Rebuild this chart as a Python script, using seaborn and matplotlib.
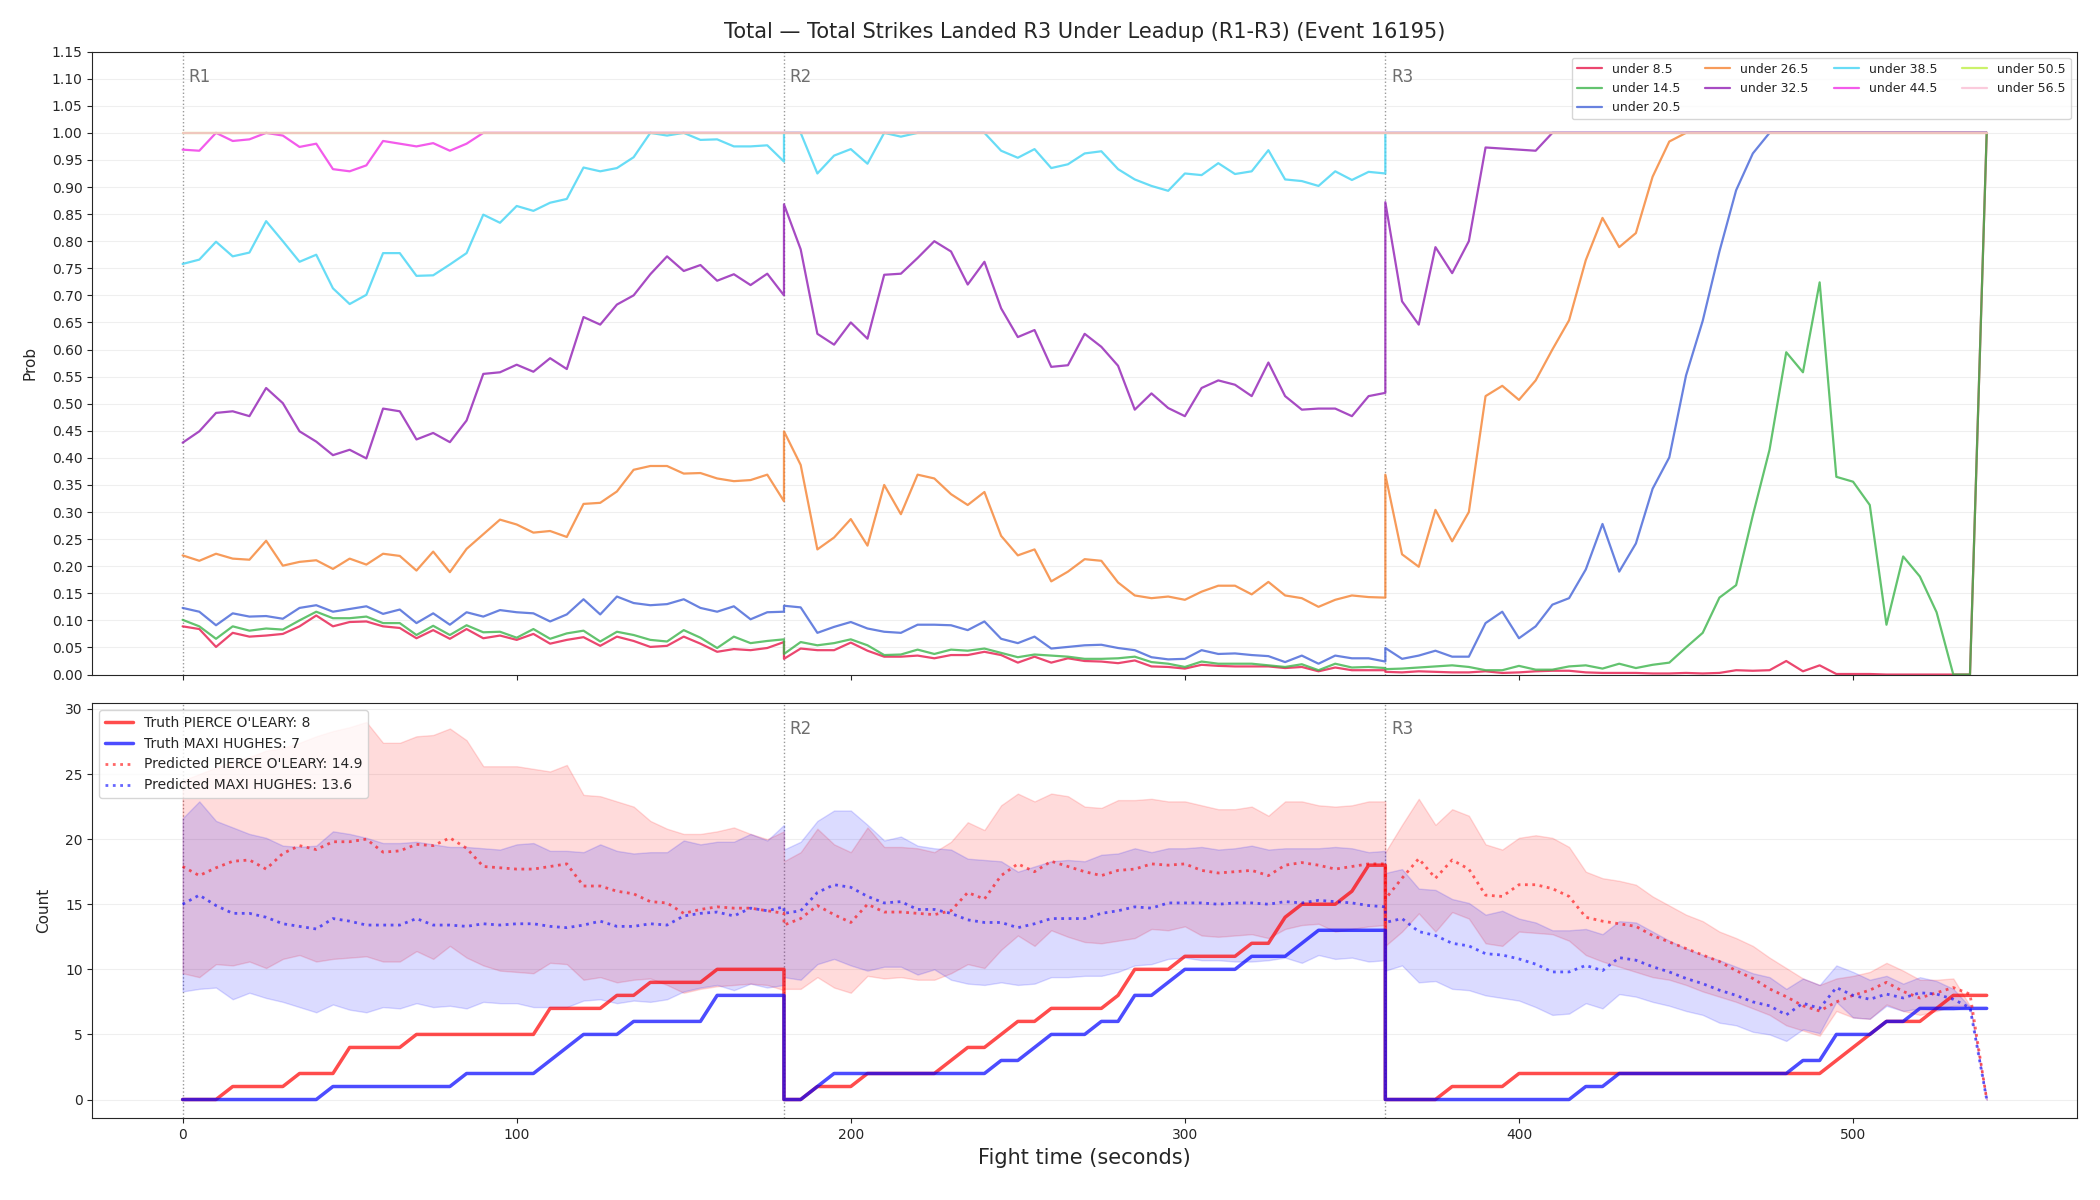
import numpy as np
import matplotlib
matplotlib.use("Agg")
import matplotlib.pyplot as plt
import seaborn as sns

# ---------------------------------------------------------------------------
# Data (sampled every 5 s, 37 samples per round: R1 0-180, R2 180-360, R3 360-540)
# ---------------------------------------------------------------------------
ROUND_STARTS = [0, 180, 360]
ROUND_NAMES = ["R1", "R2", "R3"]
ROUND_LEN = 180
STEP = 5

under_8_5 = [
    0.089, 0.084, 0.051, 0.077, 0.070, 0.072, 0.075, 0.089, 0.109, 0.089, 0.097, 0.098, 0.089,
    0.086, 0.067, 0.082, 0.066, 0.084, 0.067, 0.072, 0.064, 0.075, 0.057, 0.064, 0.069, 0.053,
    0.070, 0.062, 0.051, 0.053, 0.070, 0.057, 0.042, 0.047, 0.045, 0.049, 0.060,
    0.029, 0.048, 0.045, 0.045, 0.059, 0.044, 0.033, 0.033, 0.035, 0.030, 0.036, 0.036, 0.042,
    0.036, 0.022, 0.033, 0.022, 0.030, 0.025, 0.024, 0.021, 0.026, 0.015, 0.014, 0.011, 0.018,
    0.016, 0.015, 0.015, 0.015, 0.012, 0.014, 0.006, 0.013, 0.008, 0.008, 0.008,
    0.005, 0.004, 0.006, 0.005, 0.004, 0.004, 0.006, 0.003, 0.004, 0.006, 0.007, 0.007, 0.004,
    0.003, 0.003, 0.003, 0.002, 0.002, 0.003, 0.002, 0.003, 0.008, 0.007, 0.008, 0.025, 0.006,
    0.017, 0.001, 0.001, 0.001, 0.0, 0.0, 0.0, 0.0, 0.0, 0.0, 1.0,
]
under_14_5 = [
    0.101, 0.089, 0.066, 0.089, 0.081, 0.085, 0.083, 0.100, 0.116, 0.104, 0.104, 0.107, 0.095,
    0.095, 0.073, 0.090, 0.073, 0.091, 0.078, 0.079, 0.068, 0.084, 0.066, 0.076, 0.081, 0.061,
    0.079, 0.073, 0.064, 0.061, 0.082, 0.068, 0.049, 0.070, 0.058, 0.062, 0.065,
    0.038, 0.060, 0.054, 0.058, 0.065, 0.054, 0.036, 0.037, 0.046, 0.038, 0.046, 0.044, 0.048,
    0.040, 0.032, 0.037, 0.035, 0.033, 0.029, 0.029, 0.030, 0.033, 0.023, 0.020, 0.014, 0.024,
    0.020, 0.020, 0.020, 0.017, 0.014, 0.019, 0.008, 0.020, 0.013, 0.014, 0.012,
    0.010, 0.011, 0.013, 0.015, 0.017, 0.014, 0.008, 0.008, 0.016, 0.009, 0.009, 0.015, 0.017,
    0.011, 0.020, 0.012, 0.018, 0.022, 0.050, 0.077, 0.142, 0.165, 0.294, 0.415, 0.595, 0.558,
    0.724, 0.365, 0.356, 0.313, 0.092, 0.218, 0.181, 0.115, 0.0, 0.0, 1.0,
]
under_20_5 = [
    0.123, 0.116, 0.091, 0.113, 0.107, 0.108, 0.103, 0.123, 0.128, 0.116, 0.121, 0.126, 0.112,
    0.120, 0.095, 0.113, 0.092, 0.115, 0.107, 0.119, 0.115, 0.113, 0.098, 0.111, 0.139, 0.111,
    0.144, 0.132, 0.128, 0.130, 0.139, 0.123, 0.116, 0.126, 0.102, 0.115, 0.116,
    0.127, 0.124, 0.077, 0.088, 0.097, 0.085, 0.079, 0.077, 0.092, 0.092, 0.091, 0.082, 0.098,
    0.066, 0.058, 0.070, 0.048, 0.051, 0.054, 0.055, 0.049, 0.045, 0.032, 0.028, 0.029, 0.045,
    0.038, 0.039, 0.036, 0.034, 0.023, 0.035, 0.020, 0.035, 0.030, 0.030, 0.024,
    0.049, 0.029, 0.035, 0.044, 0.033, 0.033, 0.095, 0.116, 0.067, 0.089, 0.129, 0.141, 0.194,
    0.278, 0.190, 0.242, 0.343, 0.401, 0.552, 0.653, 0.781, 0.894, 0.962, 1.0, 1.0, 1.0,
    1.0, 1.0, 1.0, 1.0, 1.0, 1.0, 1.0, 1.0, 1.0, 1.0, 1.0,
]
under_26_5 = [
    0.220, 0.210, 0.223, 0.214, 0.212, 0.247, 0.201, 0.208, 0.211, 0.195, 0.214, 0.203, 0.223,
    0.219, 0.192, 0.227, 0.189, 0.232, 0.259, 0.286, 0.277, 0.262, 0.265, 0.254, 0.315, 0.317,
    0.338, 0.378, 0.385, 0.385, 0.371, 0.372, 0.362, 0.357, 0.359, 0.369, 0.320,
    0.449, 0.387, 0.231, 0.253, 0.287, 0.238, 0.350, 0.296, 0.369, 0.362, 0.333, 0.313, 0.337,
    0.256, 0.220, 0.231, 0.172, 0.190, 0.213, 0.210, 0.170, 0.146, 0.141, 0.144, 0.138, 0.153,
    0.164, 0.164, 0.148, 0.171, 0.146, 0.141, 0.125, 0.138, 0.146, 0.143, 0.142,
    0.369, 0.222, 0.199, 0.304, 0.246, 0.300, 0.514, 0.533, 0.507, 0.543, 0.600, 0.654, 0.765,
    0.843, 0.789, 0.815, 0.919, 0.984, 1.0, 1.0, 1.0, 1.0, 1.0, 1.0, 1.0, 1.0,
    1.0, 1.0, 1.0, 1.0, 1.0, 1.0, 1.0, 1.0, 1.0, 1.0, 1.0,
]
under_32_5 = [
    0.428, 0.449, 0.483, 0.486, 0.477, 0.529, 0.501, 0.449, 0.430, 0.405, 0.415, 0.399, 0.491,
    0.486, 0.434, 0.446, 0.429, 0.469, 0.555, 0.558, 0.572, 0.559, 0.584, 0.564, 0.660, 0.646,
    0.683, 0.700, 0.739, 0.772, 0.745, 0.756, 0.727, 0.739, 0.719, 0.740, 0.700,
    0.868, 0.785, 0.629, 0.609, 0.650, 0.620, 0.738, 0.740, 0.769, 0.800, 0.781, 0.720, 0.762,
    0.676, 0.623, 0.636, 0.568, 0.571, 0.629, 0.605, 0.570, 0.489, 0.519, 0.492, 0.477, 0.529,
    0.543, 0.535, 0.514, 0.576, 0.514, 0.489, 0.491, 0.491, 0.477, 0.514, 0.520,
    0.872, 0.689, 0.646, 0.789, 0.741, 0.800, 0.973, 0.971, 0.969, 0.967, 1.0, 1.0, 1.0,
    1.0, 1.0, 1.0, 1.0, 1.0, 1.0, 1.0, 1.0, 1.0, 1.0, 1.0, 1.0, 1.0,
    1.0, 1.0, 1.0, 1.0, 1.0, 1.0, 1.0, 1.0, 1.0, 1.0, 1.0,
]
under_38_5 = [
    0.758, 0.766, 0.799, 0.772, 0.779, 0.837, 0.800, 0.762, 0.775, 0.713, 0.684, 0.701, 0.778,
    0.778, 0.736, 0.737, 0.757, 0.778, 0.849, 0.834, 0.865, 0.856, 0.871, 0.878, 0.936, 0.929,
    0.935, 0.955, 1.0, 0.995, 1.0, 0.987, 0.988, 0.975, 0.975, 0.977, 0.947,
    1.0, 1.0, 0.925, 0.958, 0.970, 0.943, 1.0, 0.993, 1.0, 1.0, 1.0, 1.0, 1.0,
    0.967, 0.954, 0.970, 0.935, 0.942, 0.962, 0.966, 0.933, 0.914, 0.902, 0.893, 0.925, 0.922,
    0.944, 0.924, 0.929, 0.968, 0.914, 0.911, 0.902, 0.929, 0.913, 0.928, 0.925,
] + [1.0] * 37
under_44_5 = [
    0.969, 0.967, 1.0, 0.985, 0.988, 1.0, 0.995, 0.974, 0.980, 0.933, 0.929, 0.940, 0.985,
    0.980, 0.975, 0.981, 0.967, 0.980, 1.0, 1.0, 1.0, 1.0, 1.0, 1.0, 1.0, 1.0,
    1.0, 1.0, 1.0, 1.0, 1.0, 1.0, 1.0, 1.0, 1.0, 1.0, 1.0,
] + [1.0] * 74
under_50_5 = [1.0] * 111
under_56_5 = [1.0] * 111

line_labels = ["under 8.5", "under 14.5", "under 20.5", "under 26.5", "under 32.5",
               "under 38.5", "under 44.5", "under 50.5", "under 56.5"]
line_values = [under_8_5, under_14_5, under_20_5, under_26_5, under_32_5,
               under_38_5, under_44_5, under_50_5, under_56_5]
line_colors = ["#e6194b", "#3cb44b", "#4363d8", "#f58231", "#911eb4",
               "#42d4f4", "#f032e6", "#bfef45", "#fabed4"]

# counts
truth_pierce = [
    0, 0, 0, 1, 1, 1, 1, 2, 2, 2, 4, 4, 4, 4, 5, 5, 5, 5, 5, 5, 5, 5, 7, 7, 7, 7, 8, 8, 9, 9, 9, 9,
    10, 10, 10, 10, 10,
    0, 0, 1, 1, 1, 2, 2, 2, 2, 2, 3, 4, 4, 5, 6, 6, 7, 7, 7, 7, 8, 10, 10, 10, 11, 11, 11, 11,
    12, 12, 14, 15, 15, 15, 16, 18, 18,
    0, 0, 0, 0, 1, 1, 1, 1, 2, 2, 2, 2, 2, 2, 2, 2, 2, 2, 2, 2, 2, 2, 2, 2, 2, 2, 2, 3, 4, 5,
    6, 6, 6, 7, 8, 8, 8,
]
truth_maxi = [
    0, 0, 0, 0, 0, 0, 0, 0, 0, 1, 1, 1, 1, 1, 1, 1, 1, 2, 2, 2, 2, 2, 3, 4, 5, 5, 5, 6, 6, 6, 6, 6,
    8, 8, 8, 8, 8,
    0, 0, 1, 2, 2, 2, 2, 2, 2, 2, 2, 2, 2, 3, 3, 4, 5, 5, 5, 6, 6, 8, 8, 9, 10, 10, 10, 10,
    11, 11, 11, 12, 13, 13, 13, 13, 13,
    0, 0, 0, 0, 0, 0, 0, 0, 0, 0, 0, 0, 1, 1, 2, 2, 2, 2, 2, 2, 2, 2, 2, 2, 2, 3, 3, 5, 5, 5,
    6, 6, 7, 7, 7, 7, 7,
]
pred_pierce = [
    17.9, 17.2, 17.8, 18.3, 18.4, 17.7, 18.9, 19.5, 19.2, 19.8, 19.8, 20.0, 19.0, 19.1, 19.6,
    19.5, 20.1, 19.3, 17.9, 17.8, 17.7, 17.7, 17.9, 18.1, 16.4, 16.4, 16.0, 15.8, 15.2, 15.1,
    14.3, 14.6, 14.8, 14.7, 14.7, 14.5, 14.3,
    13.4, 13.9, 14.9, 14.2, 13.6, 15.0, 14.4, 14.4, 14.3, 14.2, 14.5, 15.9, 15.4, 17.2, 18.1,
    17.5, 18.3, 17.9, 17.5, 17.2, 17.6, 17.7, 18.1, 18.0, 18.1, 17.6, 17.4, 17.5, 17.6, 17.2,
    18.0, 18.2, 18.0, 17.7, 17.9, 18.1, 18.1,
    15.4, 17.0, 18.5, 17.0, 18.4, 17.7, 15.7, 15.6, 16.5, 16.5, 16.2, 15.6, 14.0, 13.7, 13.5,
    13.3, 12.6, 12.1, 11.6, 11.1, 10.6, 9.9, 9.3, 8.5, 7.9, 7.2, 6.8, 7.5, 8.0, 8.4,
    9.0, 8.3, 7.8, 8.2, 8.6, 8.1, 0.0,
]
pred_maxi = [
    15.0, 15.7, 14.9, 14.3, 14.3, 14.0, 13.5, 13.3, 13.1, 13.9, 13.7, 13.4, 13.4, 13.4, 13.9,
    13.4, 13.4, 13.3, 13.5, 13.4, 13.5, 13.5, 13.3, 13.2, 13.4, 13.7, 13.3, 13.3, 13.5, 13.4,
    14.1, 14.3, 14.4, 14.1, 14.7, 14.5, 14.8,
    14.3, 14.5, 15.9, 16.5, 16.3, 15.6, 15.1, 15.2, 14.6, 14.6, 14.3, 13.8, 13.6, 13.6, 13.2,
    13.5, 13.9, 13.9, 13.9, 14.3, 14.5, 14.8, 14.7, 15.1, 15.1, 15.1, 15.0, 15.1, 15.1, 15.0,
    15.2, 15.1, 15.3, 15.2, 15.1, 14.9, 14.8,
    13.6, 13.9, 12.9, 12.6, 12.0, 11.8, 11.2, 11.1, 10.8, 10.4, 9.8, 9.8, 10.3, 9.9, 10.9,
    10.7, 10.2, 9.8, 9.3, 8.9, 8.4, 8.0, 7.5, 7.2, 6.5, 7.4, 7.0, 8.6, 8.0, 7.7,
    8.1, 7.8, 8.2, 8.1, 7.7, 7.05, 0.0,
]
pierce_hi = [
    24.5, 25.0, 25.5, 26.0, 26.3, 26.8, 27.0, 27.4, 27.9, 28.3, 28.6, 29.0, 27.4, 27.4, 27.9,
    28.0, 28.5, 27.6, 25.6, 25.6, 25.6, 25.4, 25.2, 25.7, 23.4, 23.3, 22.9, 22.5, 21.4, 20.8,
    20.4, 20.4, 20.6, 20.9, 20.4, 20.0, 20.6,
    18.3, 19.0, 20.8, 19.6, 19.0, 20.9, 19.4, 19.4, 19.3, 19.0, 19.8, 21.3, 20.7, 22.6, 23.5,
    22.9, 23.5, 23.3, 22.5, 22.4, 23.0, 23.0, 23.1, 22.9, 22.9, 22.6, 22.3, 22.3, 22.5, 21.8,
    22.9, 22.9, 22.6, 22.5, 22.6, 22.9, 22.9,
    19.0, 21.1, 23.1, 21.1, 22.3, 21.8, 19.6, 19.2, 20.1, 20.3, 20.1, 19.4, 17.5, 17.0, 16.8,
    16.5, 15.6, 14.9, 14.2, 13.7, 12.9, 12.4, 11.8, 10.9, 10.1, 9.3, 8.8, 9.3, 9.5, 9.8,
    10.5, 9.9, 9.2, 9.2, 9.3, 7.2, 0.0,
]
pierce_lo = [
    9.7, 9.4, 10.4, 10.3, 10.6, 10.1, 10.8, 11.1, 10.6, 10.8, 10.9, 11.0, 10.6, 10.6, 11.4,
    10.8, 11.8, 10.9, 10.3, 9.9, 9.8, 9.7, 10.5, 10.4, 9.2, 9.4, 9.0, 9.2, 9.3, 8.8,
    8.2, 8.5, 8.7, 8.8, 8.9, 8.8, 8.4,
    8.5, 8.5, 9.4, 8.6, 8.2, 9.5, 9.3, 9.4, 9.2, 9.2, 9.7, 10.4, 10.1, 11.5, 12.6,
    11.8, 13.0, 12.5, 12.1, 12.0, 12.2, 12.4, 13.1, 13.0, 13.3, 12.6, 12.5, 12.6, 12.7, 12.4,
    13.1, 13.4, 13.5, 12.9, 13.1, 13.3, 13.4,
    11.8, 12.9, 14.3, 12.9, 14.4, 13.9, 12.0, 11.8, 12.9, 12.8, 12.7, 12.2, 11.1, 10.6, 10.2,
    9.8, 9.4, 9.2, 8.8, 8.3, 7.9, 7.5, 7.0, 6.5, 5.7, 5.3, 4.9, 6.8, 6.3, 6.2,
    7.3, 6.8, 6.5, 6.8, 7.2, 7.2, 0.0,
]
maxi_hi = [
    21.6, 22.9, 21.4, 20.9, 20.4, 20.1, 19.5, 19.4, 19.5, 20.6, 20.4, 20.1, 19.7, 19.7, 19.8,
    19.6, 19.4, 19.4, 19.3, 19.2, 19.6, 19.7, 19.1, 19.1, 19.0, 19.6, 19.1, 18.9, 19.0, 19.0,
    19.9, 19.6, 19.8, 19.8, 20.4, 19.9, 21.1,
    19.2, 19.8, 21.4, 22.2, 22.2, 21.1, 19.9, 20.2, 19.5, 19.3, 19.2, 18.5, 18.4, 18.3, 17.5,
    17.9, 18.3, 18.4, 18.3, 18.8, 18.9, 19.3, 19.0, 19.3, 19.3, 19.4, 19.2, 19.3, 19.5, 19.2,
    19.3, 19.3, 19.3, 19.4, 19.3, 19.0, 19.1,
    17.4, 17.7, 16.2, 16.1, 15.4, 15.1, 14.2, 14.5, 13.9, 13.6, 13.0, 13.0, 13.1, 12.7, 13.7,
    13.6, 12.9, 12.2, 11.6, 11.1, 10.7, 10.2, 9.7, 9.4, 8.5, 9.3, 8.8, 10.3, 9.8, 9.2,
    9.5, 8.9, 9.4, 9.1, 8.5, 7.1, 0.0,
]
maxi_lo = [
    8.3, 8.5, 8.6, 7.7, 8.2, 7.8, 7.5, 7.1, 6.7, 7.3, 6.9, 6.7, 7.1, 7.0, 7.4,
    7.1, 7.2, 7.0, 7.5, 7.4, 7.4, 7.1, 7.1, 7.1, 7.6, 7.7, 7.4, 7.6, 7.5, 7.7,
    8.3, 8.6, 8.8, 8.4, 8.9, 8.6, 8.8,
    9.4, 9.2, 10.4, 10.8, 10.3, 9.9, 10.2, 10.2, 9.6, 10.0, 9.2, 8.9, 8.8, 9.0, 8.8,
    8.9, 9.4, 9.4, 9.5, 9.5, 9.8, 10.3, 10.4, 10.8, 10.9, 10.7, 10.7, 10.6, 10.6, 10.7,
    10.9, 10.5, 11.1, 10.8, 10.9, 10.6, 10.7,
    9.9, 10.3, 9.0, 9.1, 8.5, 8.4, 8.0, 7.8, 7.6, 7.1, 6.5, 6.6, 7.4, 7.0, 8.1,
    7.9, 7.5, 7.2, 6.8, 6.5, 5.9, 5.7, 5.2, 5.0, 4.5, 5.4, 5.1, 7.5, 6.3, 6.2,
    7.2, 6.8, 7.0, 6.9, 6.9, 7.1, 0.0,
]

FIGHTERS = ["PIERCE O'LEARY", "MAXI HUGHES"]
FINAL_TRUTH = [8, 7]
PRED_TOTAL = [14.9, 13.6]
TITLE = "Total \u2014 Total Strikes Landed R3 Under Leadup (R1-R3) (Event 16195)"

# x positions: each round sampled from its start to its end (duplicate x at round joins)
t = np.concatenate([np.arange(0, ROUND_LEN + 1, STEP) + s for s in ROUND_STARTS])


def mark_rounds(ax, names):
    for start, name in zip(ROUND_STARTS, ROUND_NAMES):
        ax.axvline(start, color="gray", linestyle=":", linewidth=1, alpha=0.8, zorder=1)
        if name in names:
            ax.annotate(name, xy=(start, 1), xycoords=("data", "axes fraction"),
                        xytext=(4, -12), textcoords="offset points",
                        ha="left", va="top", fontsize=12, color="#6e6e6e")


sns.set_style("ticks")
plt.rcParams["font.family"] = ["DejaVu Sans"]

fig, (ax1, ax2) = plt.subplots(2, 1, figsize=(21, 12), dpi=100, sharex=True,
                               gridspec_kw={"height_ratios": [3, 2]})
fig.subplots_adjust(left=0.044, right=0.989, top=0.957, bottom=0.068, hspace=0.055)

# --- top: probability of "under" thresholds ---
for label, vals, color in zip(line_labels, line_values, line_colors):
    sns.lineplot(x=t, y=vals, ax=ax1, color=color, alpha=0.8, linewidth=1.6,
                 estimator=None, sort=False, label=label)
ax1.set_ylim(0, 1.15)
ax1.set_yticks(np.arange(0, 1.151, 0.05))
ax1.set_ylabel("Prob", fontsize=11, labelpad=10)
ax1.grid(axis="y", alpha=0.3)
ax1.tick_params(labelsize=10)
mark_rounds(ax1, ["R1", "R2", "R3"])
ax1.legend(loc="upper right", ncol=4, fontsize=9)
ax1.set_title(TITLE, fontsize=15, pad=10)

# --- bottom: truth vs predicted counts ---
fighter_colors = ["red", "blue"]
truths = [truth_pierce, truth_maxi]
preds = [pred_pierce, pred_maxi]
bands = [(pierce_lo, pierce_hi), (maxi_lo, maxi_hi)]

for name, color, (lo, hi) in zip(FIGHTERS, fighter_colors, bands):
    ax2.fill_between(t, lo, hi, color=color, alpha=0.14, zorder=2)
for name, color, truth, final in zip(FIGHTERS, fighter_colors, truths, FINAL_TRUTH):
    sns.lineplot(x=t, y=truth, ax=ax2, color=color, alpha=0.7, linewidth=2.5,
                 estimator=None, sort=False, label=f"Truth {name}: {final}")
for name, color, pred, total in zip(FIGHTERS, fighter_colors, preds, PRED_TOTAL):
    sns.lineplot(x=t, y=pred, ax=ax2, color=color, alpha=0.6, linewidth=2,
                 linestyle=":", estimator=None, sort=False,
                 label=f"Predicted {name}: {total}")
ax2.set_ylabel("Count", fontsize=11, labelpad=10)
ax2.set_xlabel("Fight time (seconds)", fontsize=15)
ax2.grid(axis="y", alpha=0.3)
ax2.tick_params(labelsize=10)
mark_rounds(ax2, ["R2", "R3"])
ax2.legend(loc="upper left", fontsize=10)

fig.savefig("out.png", dpi=100)
